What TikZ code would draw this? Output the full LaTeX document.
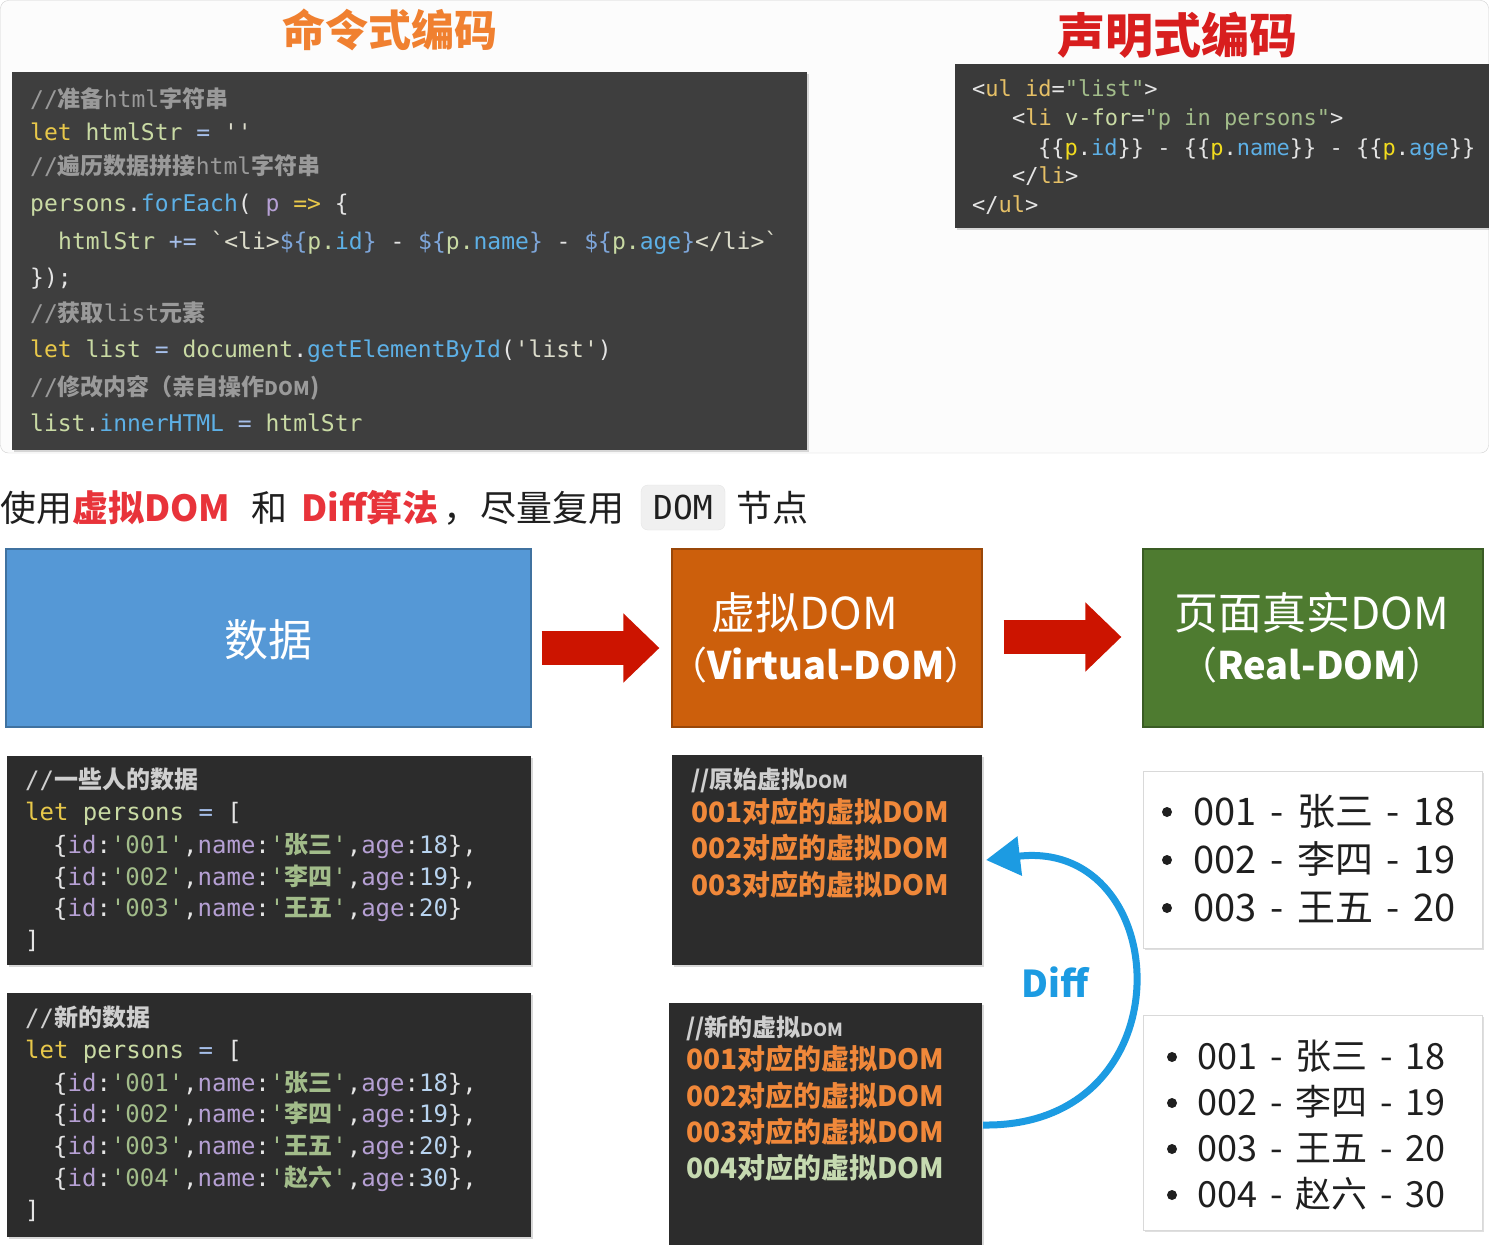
\documentclass[tikz,border=0pt]{standalone}
\usepackage{fontspec}
\setmainfont{Noto Sans CJK SC}
\setmonofont{DejaVu Sans Mono}
\newfontfamily\cjk{Noto Sans CJK SC}
\usetikzlibrary{arrows.meta,calc,shadows}
\definecolor{topbg}{HTML}{3E3E3E}
\definecolor{trbg}{HTML}{3A3A3A}
\definecolor{botbg}{HTML}{2C2C2C}
\definecolor{ckw}{HTML}{E8C84A}
\definecolor{cid}{HTML}{C9DAA4}
\definecolor{cop}{HTML}{A6BFEA}
\definecolor{cfn}{HTML}{5DB0E6}
\definecolor{cst}{HTML}{DCDCCB}
\definecolor{ccm}{HTML}{9A9A9A}
\definecolor{cpu}{HTML}{B6A0D4}
\definecolor{cbr}{HTML}{7EA6DA}
\definecolor{cwt}{HTML}{E4E4E4}
\definecolor{csg}{HTML}{A2BC8A}
\definecolor{cnm}{HTML}{B8D4F0}
\definecolor{ctag}{HTML}{E6C066}
\definecolor{cyl}{HTML}{F2DC1E}
\definecolor{vorange}{HTML}{F0883A}
\definecolor{vgray}{HTML}{CFCFCF}
\definecolor{vgreen}{HTML}{C6DAB0}
\definecolor{tred}{HTML}{E8333A}
\definecolor{arrred}{HTML}{CC1400}
\definecolor{diffblue}{HTML}{1C9BE2}
\definecolor{datablue}{HTML}{5598D6}
\definecolor{vdomorange}{HTML}{CC5F0C}
\definecolor{realgreen}{HTML}{4E7B30}
\newcommand\zh[1]{{\cjk\bfseries #1}}
\newcommand\xkw[1]{\textcolor{ckw}{#1}}
\newcommand\xid[1]{\textcolor{cid}{#1}}
\newcommand\xop[1]{\textcolor{cop}{#1}}
\newcommand\xfn[1]{\textcolor{cfn}{#1}}
\newcommand\xst[1]{\textcolor{cst}{#1}}
\newcommand\xcm[1]{\textcolor{ccm}{#1}}
\newcommand\xpu[1]{\textcolor{cpu}{#1}}
\newcommand\xbr[1]{\textcolor{cbr}{#1}}
\newcommand\xwt[1]{\textcolor{cwt}{#1}}
\newcommand\xsg[1]{\textcolor{csg}{#1}}
\newcommand\xnm[1]{\textcolor{cnm}{#1}}
\newcommand\xtg[1]{\textcolor{ctag}{#1}}
\newcommand\xyl[1]{\textcolor{cyl}{#1}}
\newcommand\gp{\hspace{0.36em}}
\newcommand\rec[3]{\xwt{\{}\xpu{id}\xwt{:}\xsg{'#1'}\xwt{,}\xpu{name}\xwt{:}\xsg{'\zh{#2}'}\xwt{,}\xpu{age}\xwt{:}\xnm{#3}\xwt{\}}}
\tikzset{
  codeA/.style={anchor=base west, inner sep=0pt, font=\ttfamily\fontsize{23pt}{23pt}\selectfont},
  codeB/.style={anchor=base west, inner sep=0pt, text=cwt, font=\ttfamily\fontsize{22pt}{22pt}\selectfont},
  codeC/.style={anchor=base west, inner sep=0pt, text=cwt, font=\ttfamily\fontsize{24pt}{24pt}\selectfont},
  vdline/.style={anchor=base west, inner sep=0pt, text=vorange, font=\bfseries\fontsize{28pt}{28pt}\selectfont},
  vdcmt/.style={anchor=base west, inner sep=0pt, text=vgray, font=\bfseries\fontsize{24pt}{24pt}\selectfont},
  liA/.style={anchor=base west, inner sep=0pt, text=black!88, font=\fontsize{38pt}{38pt}\selectfont},
  liB/.style={anchor=base west, inner sep=0pt, text=black!88, font=\fontsize{36pt}{36pt}\selectfont},
  head/.style={anchor=base west, inner sep=0pt, text=black!88, font=\fontsize{36pt}{36pt}\selectfont},
  headred/.style={head, text=tred, font=\bfseries\fontsize{36pt}{36pt}\selectfont},
  codebox/.style={fill=#1, inner sep=0pt, drop shadow={opacity=0.3, shadow xshift=2pt, shadow yshift=-2pt}},
  bigbox/.style={fill=#1, draw=#1!75!black, line width=1.2pt, inner sep=0pt},
  boxtext/.style={text=white, inner sep=0pt},
  listbox/.style={fill=white, draw=black!15, inner sep=0pt, drop shadow={opacity=0.25, shadow xshift=2pt, shadow yshift=-2pt}},
  bigarrow/.style={arrred, line width=34pt, -{Triangle[length=36pt,width=67pt]}},
  diffarc/.style={diffblue, line width=7pt, -{Triangle[length=34pt,width=38pt]}},
  title/.style={inner sep=0pt, font=\bfseries\fontsize{#1}{#1}\selectfont}
}
\begin{document}
\begin{tikzpicture}[x=1pt,y=-1pt]
\useasboundingbox (0,0) rectangle (1489,1245);
\fill[white] (0,0) rectangle (1489,1245);
% top panel
\draw[draw=black!18, fill=black!1, rounded corners=8pt] (0.5,0.5) rectangle (1488.5,453);

% titles
\node[title=43pt, text={rgb,255:red,240;green,128;blue,48}] (t1) at (390,30) {命令式编码};
\node[title=48pt, text={rgb,255:red,216;green,30;blue,30}] (t2) at (1177,35) {声明式编码};

% top-left code
\node[codebox=topbg, minimum width=795pt, minimum height=378pt] (tl) at (409.5,261) {};
\node[codeA] (a1) at (30,107) {\xcm{//\zh{准备}html\zh{字符串}}};
\node[codeA] (a2) at (30,140) {\xkw{let} \xid{htmlStr} \xop{=} \xst{''}};
\node[codeA] (a3) at (30,174) {\xcm{//\zh{遍历数据拼接}html\zh{字符串}}};
\node[codeA] (a4) at (30,211) {\xid{persons}\xwt{.}\xfn{forEach}\xwt{(} \xpu{p} \xkw{=>} \xwt{\{}};
\node[codeA] (a5) at (58,249) {\xid{htmlStr} \xop{+=} \xst{`<li>}\xbr{\$\{}\xid{p.}\xfn{id}\xbr{\}} \xwt{-} \xbr{\$\{}\xid{p.}\xfn{name}\xbr{\}} \xwt{-} \xbr{\$\{}\xid{p.}\xfn{age}\xbr{\}}\xst{</li>`}};
\node[codeA] (a6) at (30,285) {\xwt{\});}};
\node[codeA] (a7) at (30,321) {\xcm{//\zh{获取}list\zh{元素}}};
\node[codeA] (a8) at (30,357) {\xkw{let} \xid{list} \xop{=} \xid{document}\xwt{.}\xfn{getElementById}\xwt{(}\xst{'list'}\xwt{)}};
\node[codeA] (a9) at (30,395) {\xcm{//\zh{修改内容（亲自操作}{\cjk\bfseries\fontsize{19pt}{19pt}\selectfont DOM}\zh{)}}};
\node[codeA] (a10) at (30,431) {\xid{list}\xwt{.}\xfn{innerHTML} \xop{=} \xid{htmlStr}};

% top-right code
\node[codebox=trbg, minimum width=534pt, minimum height=164pt] (tr) at (1222,146) {};
\node[codeB] (b1) at (972,96) {<\xtg{ul} \xtg{id}=\xsg{"list"}>};
\node[codeB] (b2) at (1012,125) {<\xtg{li} \xid{v-for}=\xsg{"p in persons"}>};
\node[codeB] (b3) at (1038,155) {\{\{\xyl{p}.\xfn{id}\}\} - \{\{\xyl{p}.\xfn{name}\}\} - \{\{\xyl{p}.\xfn{age}\}\}};
\node[codeB] (b4) at (1012,183) {</\xtg{li}>};
\node[codeB] (b5) at (972,212) {</\xtg{ul}>};

% heading line
\node[head] (h1) at (0,521) {使用};
\node[headred] (h2) at (72,521) {虚拟DOM};
\node[head] (h3) at (251,521) {和};
\node[headred] (h4) at (301,521) {Diff算法};
\node[head] (h5) at (443,521) {，};
\node[head] (h6) at (480,521) {尽量复用};
\node[fill=black!6, draw=black!10, rounded corners=7pt, minimum width=84pt, minimum height=45pt, inner sep=0pt, text=black!88, font=\ttfamily\fontsize{33pt}{33pt}\selectfont] (h7) at (683,507.5) {DOM};
\node[head] (h8) at (736,521) {节点};

% main boxes
\node[bigbox=datablue, minimum width=525pt, minimum height=178pt] (data) at (268.5,638) {};
\node[boxtext, font=\fontsize{44pt}{44pt}\selectfont] (datat) at (268.5,640) {数据};
\node[bigbox=vdomorange, minimum width=310pt, minimum height=178pt] (vdom) at (827,638) {};
\node[boxtext, font=\fontsize{44pt}{44pt}\selectfont] (vdt1) at (805,613) {虚拟DOM};
\node[boxtext, font=\fontsize{38pt}{38pt}\selectfont] (vdt2) at (826,665) {（{\bfseries Virtual-DOM}）};
\node[bigbox=realgreen, minimum width=340pt, minimum height=178pt] (real) at (1313,638) {};
\node[boxtext, font=\fontsize{44pt}{44pt}\selectfont] (rdt1) at (1312,613) {页面真实DOM};
\node[boxtext, font=\fontsize{38pt}{38pt}\selectfont] (rdt2) at (1312,665) {（{\bfseries Real-DOM}）};

\draw[bigarrow] ($(data.east)+(10,10)$) -- ($(vdom.west)+(-12,10)$);
\draw[bigarrow] ($(vdom.east)+(21,-1)$) -- ($(real.west)+(-21,-1)$);

% data code boxes
\node[codebox=botbg, minimum width=524pt, minimum height=209pt] (d1) at (269,860.5) {};
\node[codeC] (d1a) at (25,788) {\textcolor{vgray}{//\zh{一些人的数据}}};
\node[codeC] (d1b) at (25,820) {\xkw{let} \xid{persons} \xop{=} [};
\node[codeC] (d1c) at (53,853) {\rec{001}{张三}{18},};
\node[codeC] (d1d) at (53,885) {\rec{002}{李四}{19},};
\node[codeC] (d1e) at (53,916) {\rec{003}{王五}{20}};
\node[codeC] (d1f) at (25,948) {]};

\node[codebox=botbg, minimum width=524pt, minimum height=244pt] (d2) at (269,1115) {};
\node[codeC] (d2a) at (25,1026) {\textcolor{vgray}{//\zh{新的数据}}};
\node[codeC] (d2b) at (25,1058) {\xkw{let} \xid{persons} \xop{=} [};
\node[codeC] (d2c) at (53,1091) {\rec{001}{张三}{18},};
\node[codeC] (d2d) at (53,1122) {\rec{002}{李四}{19},};
\node[codeC] (d2e) at (53,1154) {\rec{003}{王五}{20},};
\node[codeC] (d2f) at (53,1186) {\rec{004}{赵六}{30},};
\node[codeC] (d2g) at (25,1218) {]};

% virtual dom boxes
\node[codebox=botbg, minimum width=310pt, minimum height=210pt] (v1) at (827,860) {};
\node[vdcmt] (v1a) at (691,788) {//原始虚拟{\fontsize{18pt}{18pt}\selectfont DOM}};
\node[vdline] (v1b) at (691,822) {001对应的虚拟DOM};
\node[vdline] (v1c) at (691,858) {002对应的虚拟DOM};
\node[vdline] (v1d) at (691,895) {003对应的虚拟DOM};

\node[codebox=botbg, minimum width=313pt, minimum height=244pt] (v2) at (825.5,1125) {};
\node[vdcmt] (v2a) at (686,1036) {//新的虚拟{\fontsize{18pt}{18pt}\selectfont DOM}};
\node[vdline] (v2b) at (686,1069) {001对应的虚拟DOM};
\node[vdline] (v2c) at (686,1106) {002对应的虚拟DOM};
\node[vdline] (v2d) at (686,1142) {003对应的虚拟DOM};
\node[vdline, text=vgreen] (v2e) at (686,1178) {004对应的虚拟DOM};

% diff arc
\coordinate (ds) at (983,1125);
\coordinate (de) at (986,860);
\draw[diffarc] (ds) .. controls (1190,1128) and (1175,838) .. (de);
\node[inner sep=0pt, text=diffblue, font=\bfseries\fontsize{37pt}{37pt}\selectfont] (diff) at (1055,982) {Diff};

% real dom lists
\node[listbox, minimum width=339pt, minimum height=177pt] (r1) at (1312.5,859.5) {};
\fill[black!88] (1167,812) circle (5);
\fill[black!88] (1167,860) circle (5);
\fill[black!88] (1167,908) circle (5);
\node[liA] (r1a) at (1193,825) {001\gp{}-\gp{}张三\gp{}-\gp{}18};
\node[liA] (r1b) at (1193,873) {002\gp{}-\gp{}李四\gp{}-\gp{}19};
\node[liA] (r1c) at (1193,921) {003\gp{}-\gp{}王五\gp{}-\gp{}20};

\node[listbox, minimum width=339pt, minimum height=215pt] (r2) at (1312.5,1122.5) {};
\fill[black!88] (1172,1057) circle (5);
\fill[black!88] (1172,1103) circle (5);
\fill[black!88] (1172,1149) circle (5);
\fill[black!88] (1172,1195) circle (5);
\node[liB] (r2a) at (1197,1069) {001\gp{}-\gp{}张三\gp{}-\gp{}18};
\node[liB] (r2b) at (1197,1115) {002\gp{}-\gp{}李四\gp{}-\gp{}19};
\node[liB] (r2c) at (1197,1161) {003\gp{}-\gp{}王五\gp{}-\gp{}20};
\node[liB] (r2d) at (1197,1207) {004\gp{}-\gp{}赵六\gp{}-\gp{}30};
\end{tikzpicture}
\end{document}
